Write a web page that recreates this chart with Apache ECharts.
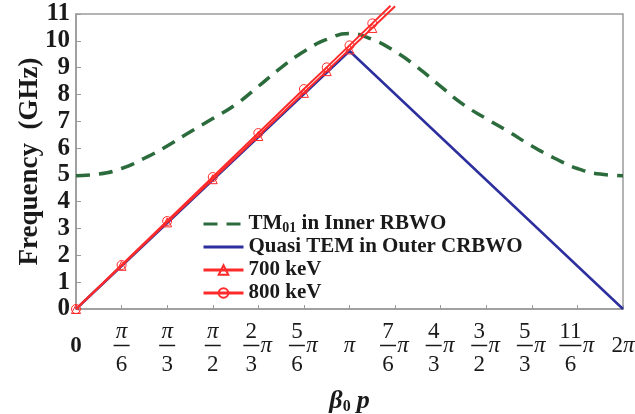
<!DOCTYPE html>
<html>
<head>
<meta charset="utf-8">
<script src="https://cdn.jsdelivr.net/npm/echarts@6/dist/echarts.min.js"></script>
<style>
  html, body { margin: 0; padding: 0; background: #ffffff; }
  #chart { width: 635px; height: 414px; }
</style>
</head>
<body>
<div id="chart"></div>
<script>
// Phase axis is expressed in units of pi/6, so 0 .. 12 covers 0 .. 2pi.

// TM01 mode of the inner RBWO
const tmPhase = [0, 0.5, 1, 1.5, 2, 2.5, 3, 3.5, 4, 4.5, 5, 5.5, 6, 6.5, 7, 7.5, 8, 8.5, 9, 9.5, 10, 10.5, 11, 11.5, 12];
const tmFreq  = [4.97, 5.03, 5.24, 5.62, 6.08, 6.6, 7.1, 7.62, 8.3, 9.0, 9.6, 10.05, 10.27, 10.05, 9.6, 9.0, 8.3, 7.62, 7.1, 6.6, 6.08, 5.62, 5.24, 5.03, 4.97];

// Quasi-TEM mode of the outer CRBWO
const temPhase = [0, 6, 12];
const temFreq  = [0, 9.62, 0];

// Beam lines
const beam700Phase = [0, 1, 2, 3, 4, 5, 5.5, 6, 6.5, 7.0];
const beam700Freq  = [0, 1.61, 3.23, 4.84, 6.45, 8.06, 8.87, 9.68, 10.48, 11.29];
const beam800Phase = [0, 1, 2, 3, 4, 5, 5.5, 6, 6.5, 6.9];
const beam800Freq  = [0, 1.64, 3.28, 4.92, 6.56, 8.2, 9.01, 9.83, 10.65, 11.31];

// Tick labels: [text] or [numerator, denominator] or [numerator, denominator, suffix]
const phaseTickLabels = [
  ['0'], ['π', '6'], ['π', '3'], ['π', '2'], ['2', '3', 'π'], ['5', '6', 'π'], ['π'],
  ['7', '6', 'π'], ['4', '3', 'π'], ['3', '2', 'π'], ['5', '3', 'π'], ['11', '6', 'π'], ['2π']
];

const seriesNames = ['TM01 in Inner RBWO', 'Quasi TEM in Outer CRBWO', '700 keV', '800 keV'];

const SERIF = "'Liberation Serif', 'DejaVu Serif', serif";
const INK = '#1a1a1a';
const FRAME = '#9a9a9a';
const RED = '#ff2a2a';

function pairs(xs, ys) {
  return xs.map((x, i) => [x, ys[i]]);
}

function beamData(xs, ys) {
  // the last point only extends the line past the top of the plot
  return xs.map((x, i) => i === xs.length - 1
    ? { value: [x, ys[i]], symbol: 'none' }
    : [x, ys[i]]);
}

function phaseLabel(value) {
  const t = phaseTickLabels[Math.round(value)];
  if (!t) return '';
  if (t.length === 1) {
    if (t[0] === '0') return '{zero|0}';
    if (t[0] === 'π') return '{solopi|π}';
    return '{solo|2}{solopi|π}';
  }
  const wide = t[0].length > 1 ? 'W' : '';
  if (t.length === 2) {
    const num = t[0] === 'π' ? '{npi|π}' : '{n' + wide + '|' + t[0] + '}';
    return num + '\n{bar' + wide + '|}\n{d' + wide + '|' + t[1] + '}';
  }
  return '{n' + wide + '|' + t[0] + '}{sp|}\n{bar' + wide + '|}{pi|π}\n{d' + wide + '|' + t[1] + '}{sp|}';
}

function legendLabel(name) {
  if (name.indexOf('TM01') === 0) {
    return '{t|TM}{s|01}{t|' + name.slice(4) + '}';
  }
  return '{t|' + name + '}';
}

const chart = echarts.init(document.getElementById('chart'), null, { renderer: 'canvas' });

const BW = 16, BWW = 22;
const HIDDEN_MARK = { color: 'rgba(0,0,0,0)', borderColor: 'rgba(0,0,0,0)', borderWidth: 0 };

chart.setOption({
  animation: false,
  backgroundColor: '#ffffff',
  grid: {
    left: 76, right: 12, top: 14, bottom: 105,
    outerBoundsMode: 'none', containLabel: false,
    show: true, borderColor: FRAME, borderWidth: 1.5, backgroundColor: 'transparent'
  },
  legend: {
    left: 197, top: 208,
    orient: 'vertical',
    itemWidth: 40, itemHeight: 12, itemGap: 1,
    data: [
      { name: seriesNames[0], itemStyle: HIDDEN_MARK },
      { name: seriesNames[1], itemStyle: HIDDEN_MARK },
      { name: seriesNames[2] },
      { name: seriesNames[3] }
    ],
    formatter: legendLabel,
    lineStyle: { width: 3 },
    textStyle: {
      fontFamily: SERIF, fontWeight: 'bold', fontSize: 21, color: INK, lineHeight: 22,
      rich: {
        t: { fontFamily: SERIF, fontWeight: 'bold', fontSize: 21, color: INK, lineHeight: 22 },
        s: { fontFamily: SERIF, fontWeight: 'bold', fontSize: 14, color: INK, lineHeight: 14, verticalAlign: 'bottom' }
      }
    }
  },
  xAxis: {
    type: 'value', min: 0, max: 12, interval: 1,
    axisLine: { show: true, lineStyle: { color: FRAME, width: 1.5 } },
    axisTick: { show: true, inside: true, length: 4, lineStyle: { color: FRAME, width: 1 } },
    splitLine: { show: false },
    axisLabel: {
      margin: 13, color: INK, formatter: phaseLabel,
      rich: {
        zero:   { fontFamily: SERIF, fontWeight: 'bold', fontSize: 23, color: INK, lineHeight: 48 },
        solo:   { fontFamily: SERIF, fontSize: 23, color: INK, lineHeight: 48 },
        solopi: { fontFamily: SERIF, fontStyle: 'italic', fontSize: 23, color: INK, lineHeight: 48 },
        npi:    { fontFamily: SERIF, fontStyle: 'italic', fontSize: 23, color: INK, lineHeight: 20, width: 18, align: 'center' },
        n:      { fontFamily: SERIF, fontSize: 23, color: INK, lineHeight: 20, width: BW, align: 'center' },
        nW:     { fontFamily: SERIF, fontSize: 23, color: INK, lineHeight: 20, width: BWW, align: 'center' },
        d:      { fontFamily: SERIF, fontSize: 23, color: INK, lineHeight: 32, width: BW, align: 'center' },
        dW:     { fontFamily: SERIF, fontSize: 23, color: INK, lineHeight: 32, width: BWW, align: 'center' },
        bar:    { width: BW, height: 1.5, lineHeight: 7, backgroundColor: INK, align: 'center' },
        barW:   { width: BWW, height: 1.5, lineHeight: 7, backgroundColor: INK, align: 'center' },
        pi:     { fontFamily: SERIF, fontStyle: 'italic', fontSize: 23, color: INK, lineHeight: 7, width: 14, align: 'center' },
        sp:     { width: 14, lineHeight: 7, align: 'center' }
      }
    },
    name: '{b|β}{s|0}{g| }{b|p}',
    nameLocation: 'middle', nameGap: 78,
    nameTextStyle: {
      rich: {
        b: { fontFamily: SERIF, fontWeight: 'bold', fontStyle: 'italic', fontSize: 26, color: INK, lineHeight: 28 },
        s: { fontFamily: SERIF, fontWeight: 'bold', fontSize: 16, color: INK, lineHeight: 16, verticalAlign: 'bottom' },
        g: { fontFamily: SERIF, fontSize: 16, lineHeight: 16, width: 6 }
      }
    }
  },
  yAxis: {
    type: 'value', min: 0, max: 11, interval: 1,
    axisLine: { show: true, lineStyle: { color: FRAME, width: 1.5 } },
    axisTick: { show: true, inside: true, length: 5, lineStyle: { color: FRAME, width: 1 } },
    splitLine: { show: false },
    axisLabel: { margin: 6, fontFamily: SERIF, fontWeight: 'bold', fontSize: 25, color: INK },
    name: 'Frequency  (GHz)',
    nameLocation: 'middle', nameGap: 32, nameRotate: 90, nameMoveOverlap: false,
    nameTextStyle: { fontFamily: SERIF, fontWeight: 'bold', fontSize: 27, color: INK }
  },
  series: [
    {
      name: seriesNames[0], type: 'line', smooth: true, symbol: 'none',
      data: pairs(tmPhase, tmFreq),
      lineStyle: { color: '#2b6b3c', width: 3.5, type: [14, 9] },
      itemStyle: { color: '#2b6b3c' },
      z: 2
    },
    {
      name: seriesNames[1], type: 'line', symbol: 'none',
      data: pairs(temPhase, temFreq),
      lineStyle: { color: '#2d2f9e', width: 2.5 },
      itemStyle: { color: '#2d2f9e' },
      z: 3
    },
    {
      name: seriesNames[2], type: 'line', symbol: 'triangle', symbolSize: 9, clip: false,
      data: beamData(beam700Phase, beam700Freq),
      lineStyle: { color: RED, width: 2 },
      itemStyle: { color: 'rgba(255,255,255,0)', borderColor: RED, borderWidth: 1 },
      z: 4
    },
    {
      name: seriesNames[3], type: 'line', symbol: 'circle', symbolSize: 9, clip: false,
      data: beamData(beam800Phase, beam800Freq),
      lineStyle: { color: RED, width: 2 },
      itemStyle: { color: 'rgba(255,255,255,0)', borderColor: RED, borderWidth: 1 },
      z: 5
    }
  ]
});
</script>
</body>
</html>
